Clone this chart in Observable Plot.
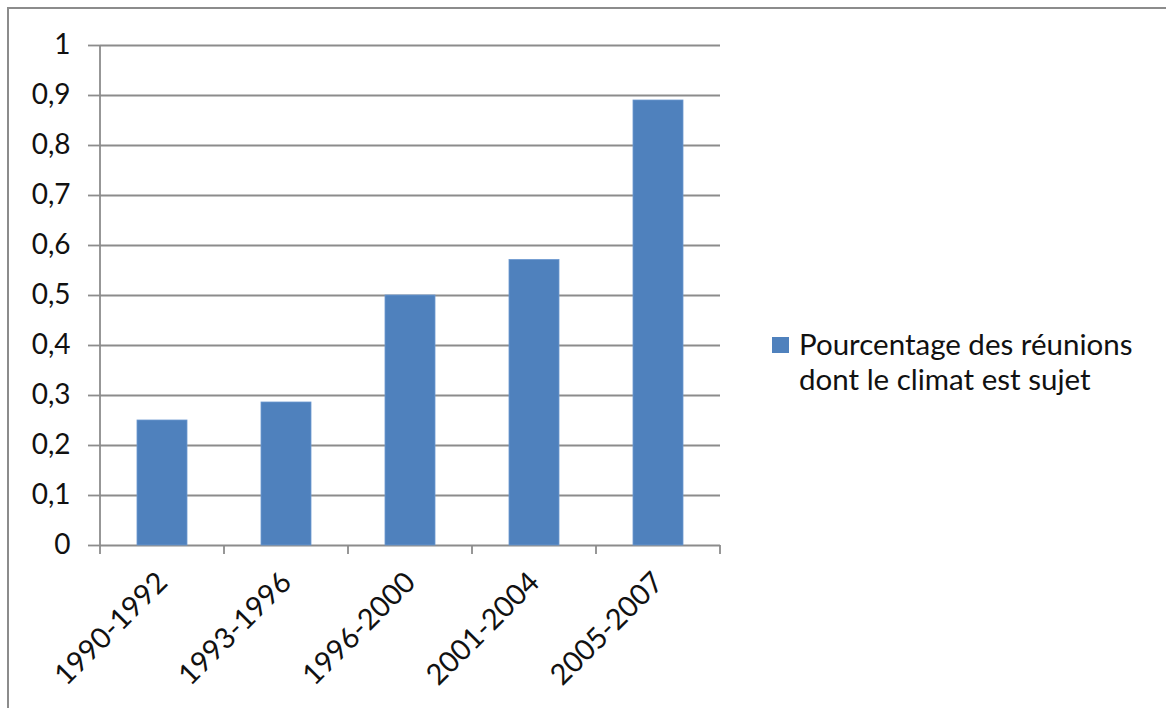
<!DOCTYPE html>
<html><head><meta charset="utf-8">
<script src="https://cdn.jsdelivr.net/npm/d3@7"></script>
<script src="https://cdn.jsdelivr.net/npm/@observablehq/plot@0.6"></script>
<style>
body{margin:0;background:#fff;}
#wrap{position:relative;width:1166px;height:708px;overflow:hidden;font-family:Lato,"Open Sans",sans-serif;background:#fff;}
#border{position:absolute;left:7px;top:7px;width:1200px;height:800px;border-top:2.5px solid #8c8c8c;border-left:2.5px solid #8c8c8c;pointer-events:none;}
#chart{position:absolute;left:0;top:0;}
#legend{position:absolute;left:772px;top:326px;font-size:29.5px;line-height:35px;color:#111;}
#legend .sw{position:absolute;left:0;top:11px;width:17px;height:16px;background:#4F81BD;}
#legend .tx{position:absolute;left:27px;top:0;white-space:nowrap;}
</style></head>
<body>
<div id="wrap">
  <div id="chart"></div>
  <div id="border"></div>
  <div id="legend"><div class="sw"></div><div class="tx">Pourcentage des réunions<br>dont le climat est sujet</div></div>
</div>
<script>
const periods = ["1990-1992", "1993-1996", "1996-2000", "2001-2004", "2005-2007"];
const shares = [0.25, 0.286, 0.5, 0.571, 0.89];
const yTicks = [0, 0.1, 0.2, 0.3, 0.4, 0.5, 0.6, 0.7, 0.8, 0.9, 1];
const seriesName = "Pourcentage des réunions dont le climat est sujet";

const data = periods.map((p, i) => ({period: p, value: shares[i]}));
const gridColor = "#8c8c8c";
const fmt = d => d3.format("~g")(d).replace(".", ",");

const chart = Plot.plot({
  width: 1166,
  height: 708,
  marginLeft: 100,
  marginRight: 446,
  marginTop: 45,
  marginBottom: 163,
  style: {fontFamily: "Lato, 'Open Sans', sans-serif", background: "transparent", color: "#111"},
  x: {type: "band", domain: periods, paddingInner: 0.6, paddingOuter: 0.3},
  y: {domain: [0, 1]},
  marks: [
    Plot.ruleY(yTicks, {stroke: gridColor, strokeWidth: 1.8}),
    Plot.barY(data, {x: "period", y: "value", fill: "#4F81BD", stroke: "#6B98D0", strokeWidth: 0.8, title: d => seriesName}),
    Plot.axisY({ticks: yTicks, tickSize: 12, tickPadding: 18, tickFormat: fmt, fontSize: 28, label: null, stroke: gridColor, strokeWidth: 1.8, fill: "#111"}),
    Plot.axisX({tickSize: 0, tickRotate: -45, tickPadding: 32, fontSize: 29, label: null, fill: "#111"})
  ]
});
document.getElementById("chart").appendChild(chart);

// category boundary ticks and y-axis line, positioned from the plot's own scales
const xs = chart.scale("x"), ys = chart.scale("y");
const gap = (xs.step - xs.bandwidth) / 2;
const bounds = periods.map(p => xs.apply(p) - gap).concat([xs.apply(periods[periods.length - 1]) + xs.bandwidth + gap]);
const y0 = ys.apply(0), y1 = ys.apply(1);
const svg = d3.select(chart);
const g = svg.append("g").attr("stroke", gridColor).attr("stroke-width", 1.8);
g.selectAll("line.b").data(bounds).join("line")
  .attr("x1", d => d).attr("x2", d => d).attr("y1", y0).attr("y2", y0 + 9);
g.append("line").attr("x1", bounds[0]).attr("x2", bounds[0]).attr("y1", y1).attr("y2", y0);
</script>
</body></html>
